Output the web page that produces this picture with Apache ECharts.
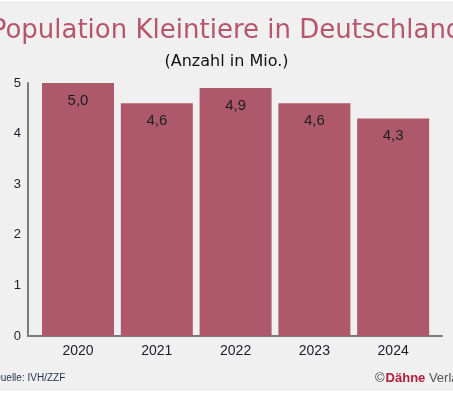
<!DOCTYPE html>
<html>
<head>
<meta charset="utf-8">
<script src="https://cdn.jsdelivr.net/npm/echarts@6/dist/echarts.min.js"></script>
<style>
html,body{margin:0;padding:0;background:#fff;}
#c{width:453px;height:395px;background:linear-gradient(#fff 0,#fff 1px,#f0f0f0 1px,#f0f0f0 391px,#fff 391px);}
</style>
</head>
<body>
<div id="c"></div>
<script>
const years = [2020, 2021, 2022, 2023, 2024];
const values = [5.0, 4.6, 4.9, 4.6, 4.3];
const yTicks = [0, 1, 2, 3, 4, 5];
const titleText = 'Population Kleintiere in Deutschland';
const subtitleText = '(Anzahl in Mio.)';
const sourceText = 'Quelle: IVH/ZZF';

const chart = echarts.init(document.getElementById('c'), null, {renderer: 'canvas'});
chart.setOption({
  animation: false,
  backgroundColor: 'transparent',
  grid: {left: 28, right: 11, top: 83, bottom: 59, containLabel: false},
  xAxis: {
    type: 'value',
    min: 2019.365,
    max: 2024.62,
    axisLine: {show: true, lineStyle: {color: '#7a7a7a', width: 2}},
    axisTick: {show: false},
    splitLine: {show: false},
    axisLabel: {
      customValues: years,
      formatter: v => String(v),
      color: '#1c1c2c',
      fontFamily: 'Liberation Sans',
      fontSize: 14,
      margin: 8
    }
  },
  yAxis: {
    type: 'value',
    min: yTicks[0],
    max: yTicks[yTicks.length - 1],
    interval: 1,
    axisLine: {show: true, lineStyle: {color: '#7a7a7a', width: 2}},
    axisTick: {show: false},
    splitLine: {show: false},
    axisLabel: {
      color: '#1c1c2c',
      fontFamily: 'Liberation Sans',
      fontSize: 13,
      margin: 7
    }
  },
  series: [{
    type: 'bar',
    data: years.map((y, i) => [y, values[i]]),
    barWidth: 72,
    itemStyle: {color: '#ae596b'},
    label: {
      show: true,
      position: 'insideTop',
      distance: 10,
      formatter: p => p.value[1].toFixed(1).replace('.', ','),
      color: '#1e1e24',
      fontFamily: 'Liberation Sans',
      fontSize: 15
    }
  }],
  graphic: [
    {type: 'text', x: 226.5, y: 31, style: {text: titleText, fill: '#b5566d', font: '26px "DejaVu Sans"', textAlign: 'center', textVerticalAlign: 'middle'}},
    {type: 'text', x: 226.5, y: 62, style: {text: subtitleText, fill: '#111', font: '16px "DejaVu Sans"', textAlign: 'center', textVerticalAlign: 'middle'}},
    {type: 'text', x: -7, y: 378, style: {text: sourceText, fill: '#1f2f50', font: '10px "Liberation Sans"', textAlign: 'left', textVerticalAlign: 'middle'}},
    {type: 'text', x: 375, y: 378, style: {
      text: '{c|©}{b|Dähne}{v| Verlag}',
      textAlign: 'left', textVerticalAlign: 'middle',
      rich: {
        c: {fill: '#444', font: '13px "Liberation Sans"'},
        b: {fill: '#b01e3c', font: 'bold 13px "Liberation Sans"', padding: [0, 0, 0, 1]},
        v: {fill: '#555', font: '13px "Liberation Sans"'}
      }
    }}
  ]
});
</script>
</body>
</html>
